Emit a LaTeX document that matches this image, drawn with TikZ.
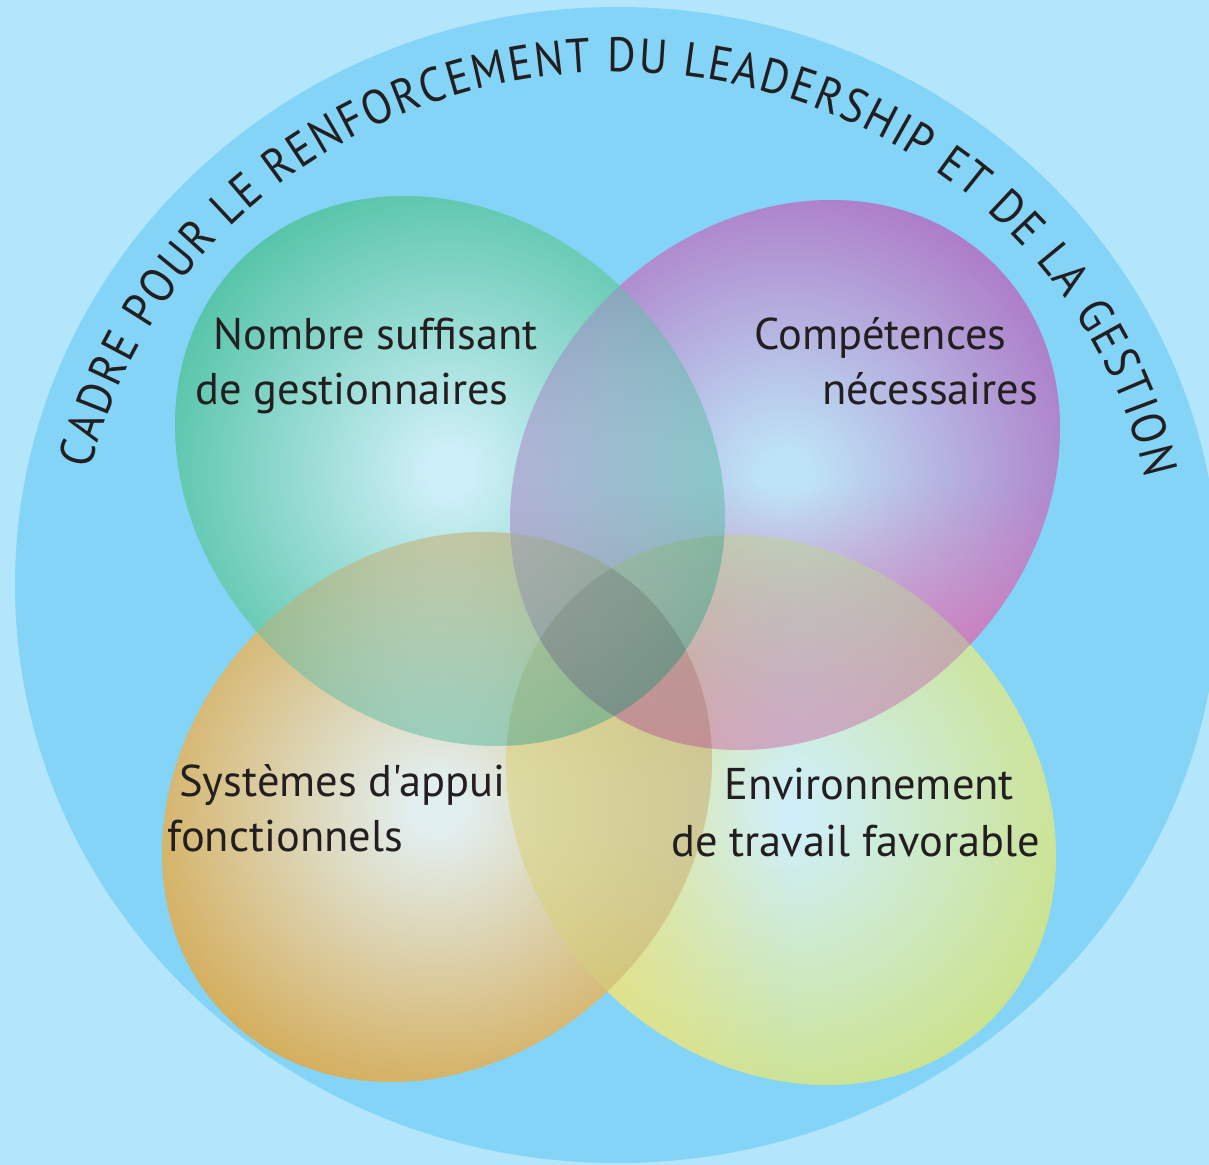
\documentclass[tikz,border=0pt]{standalone}
\usepackage{fontspec}
\setmainfont{PT Sans}
\usetikzlibrary{decorations.text,fadings}
\definecolor{bgblue}{HTML}{B3E6FA}
\definecolor{ringblue}{HTML}{84D4F7}
\definecolor{txt}{HTML}{231F20}
\definecolor{gC}{HTML}{CDEFF7}
\definecolor{gE}{HTML}{52C3A6}
\definecolor{pC}{HTML}{BDE3F6}
\definecolor{pE}{HTML}{AD7CC8}
\definecolor{oC}{HTML}{E2EFF0}
\definecolor{oE}{HTML}{D4AE5C}
\definecolor{yC}{HTML}{CFEFF8}
\definecolor{yE}{HTML}{CBE28A}
\definecolor{pinkT}{HTML}{F070A8}
\definecolor{yelT}{HTML}{F8E070}
\pgfdeclareradialshading{gshade}{\pgfpoint{0bp}{0bp}}{color(0bp)=(gC); color(2bp)=(gC); color(25bp)=(gE); color(50bp)=(gE)}
\pgfdeclareradialshading{pshade}{\pgfpoint{0bp}{0bp}}{color(0bp)=(pC); color(2bp)=(pC); color(25bp)=(pE); color(50bp)=(pE)}
\pgfdeclareradialshading{oshade}{\pgfpoint{0bp}{0bp}}{color(0bp)=(oC); color(2bp)=(oC); color(25bp)=(oE); color(50bp)=(oE)}
\pgfdeclareradialshading{yshade}{\pgfpoint{0bp}{0bp}}{color(0bp)=(yC); color(2bp)=(yC); color(25bp)=(yE); color(50bp)=(yE)}
\newfontfamily\ringfont{PT Sans}[FakeStretch=0.9]
\newfontfamily\labfont{PT Sans}[Ligatures=TeXOff]
\newcommand\blobpath[5]{#1[#2, rotate around={#5:(#3,#4)}] (#3,#4) ellipse [x radius=297, y radius=251];}
\newcommand\Gb[2]{\blobpath{#1}{#2}{450}{694}{-45}}
\newcommand\Pb[2]{\blobpath{#1}{#2}{785}{690}{45}}
\newcommand\Ob[2]{\blobpath{#1}{#2}{437}{358}{45}}
\newcommand\Yb[2]{\blobpath{#1}{#2}{781}{355}{-45}}
% complete blobs (shading plus hue tint)
\newcommand\Gfull[1]{\begin{scope}[#1]\Gb{\shade}{shading=gshade}\end{scope}}
\newcommand\Ofull[1]{\begin{scope}[#1]\Ob{\shade}{shading=oshade}\end{scope}}
\newcommand\Pfull[1]{\begin{scope}[#1]\Pb{\shade}{shading=pshade}
  \begin{scope}\Pb{\clip}{}\fill[pinkT, path fading=north, fill opacity=0.7] (505,410) rectangle (1065,680);\end{scope}\end{scope}}
\newcommand\Yfull[1]{\begin{scope}[#1]\Yb{\shade}{shading=yshade}
  \begin{scope}\Yb{\clip}{}\fill[yelT, path fading=east, fill opacity=0.75] (500,75) rectangle (790,640);\end{scope}\end{scope}}
\newcommand\darkpair[2]{\begin{scope}#1{\clip}{}#2{\fill}{black, fill opacity=0.03}\end{scope}}
\begin{document}
\begin{tikzpicture}[x=0.02cm, y=0.02cm,
  lab/.style={anchor=base west, inner sep=0pt, text=txt, font=\labfont\fontsize{25.3}{30}\selectfont}]
\useasboundingbox (0,0) rectangle (1209,1165);
\clip (0,0) rectangle (1209,1165);
\fill[bgblue] (0,0) rectangle (1209,1165);
\coordinate (ringc) at (617,580);
\fill[ringblue] (ringc) ellipse [x radius=602, y radius=578];
% pass 1: opaque blobs
\Gfull{}
\Pfull{}
\Ofull{}
\Yfull{}
% pass 2: each blob again at half opacity, so overlaps mix
\Yfull{transparency group, opacity=0.5}
\Ofull{transparency group, opacity=0.5}
\Pfull{transparency group, opacity=0.5}
\Gfull{transparency group, opacity=0.5}
% pass 3: slight darkening of overlaps
\darkpair{\Gb}{\Pb}
\darkpair{\Gb}{\Ob}
\darkpair{\Gb}{\Yb}
\darkpair{\Pb}{\Ob}
\darkpair{\Pb}{\Yb}
\darkpair{\Ob}{\Yb}
% ring text
\path[decorate, decoration={text along path, text color=txt,
  text={|\ringfont\fontsize{27.5}{32}\selectfont|CADRE POUR LE RENFORCEMENT DU LEADERSHIP ET DE LA GESTION},
  text align={fit to path}}]
  ([shift={(ringc)}]167:540 and 513) arc [start angle=167, end angle=12, x radius=540, y radius=513];
% labels
\node[lab] (n1) at (213,815) {Nombre suffisant};
\node[lab] (n2) at (195,760) {de gestionnaires};
\node[lab] (c1) at (754,815) {Compétences};
\node[lab] (c2) at (822,760) {nécessaires};
\node[lab] (s1) at (179,368) {Systèmes d'appui};
\node[lab] (s2) at (167,313) {fonctionnels};
\node[lab] (e1) at (724,365) {Environnement};
\node[lab] (e2) at (671,308) {de travail favorable};
\end{tikzpicture}
\end{document}
